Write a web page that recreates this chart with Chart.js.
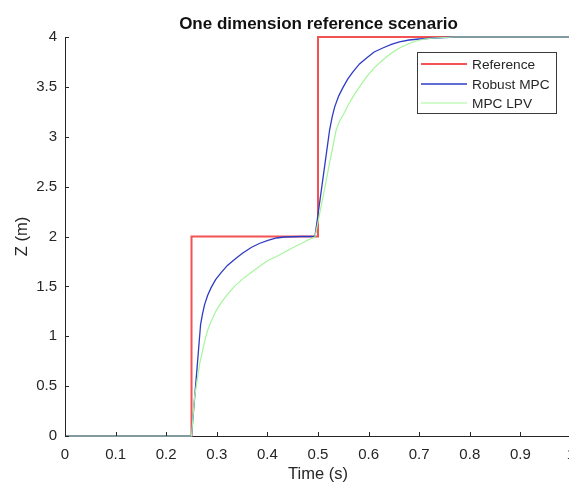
<!DOCTYPE html>
<html>
<head>
<meta charset="utf-8">
<script src="https://cdn.jsdelivr.net/npm/chart.js@4.4.1/dist/chart.umd.min.js"></script>
<style>
  html, body { margin: 0; padding: 0; overflow: hidden; background: #fff; }
  #wrap { width: 637px; height: 485px; position: relative; }
</style>
</head>
<body>
<div id="wrap"><canvas id="myChart"></canvas></div>
<script>
// reference step
const refTime  = [0, 0.25, 0.25, 0.5, 0.5, 1];
const refValue = [0, 0, 2, 2, 4, 4];

// controller responses
const robustTime = [0, 0.25, 0.268, 0.272, 0.276, 0.282, 0.289, 0.298, 0.309, 0.321, 0.335, 0.350, 0.368,
                    0.384, 0.401, 0.418, 0.434, 0.467, 0.494, 0.510, 0.523, 0.528, 0.533, 0.541, 0.550,
                    0.559, 0.569, 0.582, 0.596, 0.611, 0.628, 0.645, 0.661, 0.680, 0.700, 0.730, 0.770, 1];
const robustMpc = [0, 0, 1.12, 1.23, 1.32, 1.41, 1.49, 1.57, 1.64, 1.71, 1.77, 1.83, 1.89,
                   1.93, 1.96, 1.985, 1.995, 2, 2, 2.59, 3.07, 3.20, 3.30, 3.41, 3.50,
                   3.58, 3.65, 3.73, 3.79, 3.85, 3.89, 3.925, 3.95, 3.97, 3.98, 3.99, 4, 4];

const lpvTime = [0, 0.25, 0.256, 0.266, 0.276, 0.282, 0.289, 0.298, 0.309, 0.321, 0.335, 0.350, 0.368,
                 0.384, 0.401, 0.418, 0.434, 0.451, 0.467, 0.480, 0.494, 0.510, 0.523, 0.536, 0.543,
                 0.550, 0.559, 0.569, 0.582, 0.596, 0.611, 0.628, 0.645, 0.661, 0.678, 0.694, 0.710,
                 0.730, 0.770, 1];
const mpcLpv = [0, 0, 0.39, 0.72, 0.95, 1.06, 1.15, 1.25, 1.34, 1.42, 1.50, 1.57, 1.64,
                1.70, 1.76, 1.80, 1.845, 1.89, 1.93, 1.965, 1.995, 2.40, 2.74, 3.07, 3.16,
                3.22, 3.31, 3.40, 3.50, 3.60, 3.69, 3.77, 3.84, 3.89, 3.93, 3.96, 3.98,
                3.99, 4, 4];

const xTicks = [0, 0.1, 0.2, 0.3, 0.4, 0.5, 0.6, 0.7, 0.8, 0.9, 1];
const yTicks = [0, 0.5, 1, 1.5, 2, 2.5, 3, 3.5, 4];

const labels = ["Reference", "Robust MPC", "MPC LPV"];
const colors = {
  red: "#f25252",
  blue: "#2e3cc4",
  green: "#a6f59c",
  axis: "#262626"
};
const FONT = "'Liberation Sans', Arial, Helvetica, sans-serif";

function pts(xs, ys) {
  return xs.map(function(x, i) { return { x: x, y: ys[i] }; });
}

// MATLAB style inward ticks + legend box
const matlabBits = {
  id: "matlabBits",
  afterDraw(chart) {
    const ctx = chart.ctx;
    const xs = chart.scales.x, ys = chart.scales.y;
    const a = chart.chartArea;
    ctx.save();
    ctx.strokeStyle = colors.axis;
    ctx.lineWidth = 1;
    ctx.beginPath();
    xTicks.forEach(function(v) {
      const px = Math.round(xs.getPixelForValue(v)) + 0.5;
      ctx.moveTo(px, a.bottom);
      ctx.lineTo(px, a.bottom - 4);
    });
    yTicks.forEach(function(v) {
      const py = Math.round(ys.getPixelForValue(v)) + 0.5;
      ctx.moveTo(a.left, py);
      ctx.lineTo(a.left + 4, py);
    });
    ctx.stroke();

    // legend
    const lx = 417.5, ly = 52.5, lw = 139, lh = 61;
    ctx.fillStyle = "#fff";
    ctx.fillRect(lx, ly, lw, lh);
    ctx.strokeStyle = "#3a3a3a";
    ctx.strokeRect(lx, ly, lw, lh);
    const rows = [64, 84, 103];
    chart.data.datasets.forEach(function(ds, i) {
      ctx.strokeStyle = ds.borderColor;
      ctx.lineWidth = ds.borderWidth;
      ctx.beginPath();
      ctx.moveTo(421, rows[i]);
      ctx.lineTo(467, rows[i]);
      ctx.stroke();
      ctx.fillStyle = "#262626";
      ctx.font = "13.7px " + FONT;
      ctx.textBaseline = "middle";
      ctx.textAlign = "left";
      ctx.fillText(ds.label, 472, rows[i] + 1);
    });
    ctx.restore();
  }
};

const ctx = document.getElementById("myChart").getContext("2d");
new Chart(ctx, {
  type: "line",
  data: {
    datasets: [
      {
        label: labels[0],
        data: pts(refTime, refValue),
        borderColor: colors.red,
        borderWidth: 2,
        pointRadius: 0,
        tension: 0,
        clip: false,
        order: 2
      },
      {
        label: labels[1],
        data: pts(robustTime, robustMpc),
        borderColor: colors.blue,
        borderWidth: 1.3,
        pointRadius: 0,
        tension: 0,
        clip: false,
        order: 1
      },
      {
        label: labels[2],
        data: pts(lpvTime, mpcLpv),
        borderColor: colors.green,
        borderWidth: 1.2,
        pointRadius: 0,
        tension: 0,
        clip: false,
        order: 0
      }
    ]
  },
  options: {
    responsive: true,
    maintainAspectRatio: false,
    animation: false,
    layout: { padding: 0 },
    plugins: {
      legend: { display: false },
      tooltip: { enabled: false },
      title: {
        display: true,
        text: "One dimension reference scenario",
        color: "#111",
        font: { family: FONT, size: 17, weight: "bold", lineHeight: 1.2 },
        padding: { top: 14, bottom: 2.6 }
      }
    },
    scales: {
      x: {
        type: "linear",
        min: 0,
        max: 1,
        afterBuildTicks: function(s) { s.ticks = xTicks.map(function(v) { return { value: v }; }); },
        afterFit: function(s) { s.height = 49; },
        grid: { display: true, drawOnChartArea: false, drawTicks: false },
        border: { display: true, color: colors.axis, width: 1 },
        ticks: {
          color: colors.axis,
          padding: 10,
          maxRotation: 0,
          autoSkip: false,
          font: { family: FONT, size: 15 },
          callback: function(v) { return String(Math.round(v * 10) / 10); }
        },
        title: {
          display: true,
          text: "Time (s)",
          color: colors.axis,
          font: { family: FONT, size: 16.5 },
          padding: { top: 0, bottom: 1 }
        }
      },
      y: {
        type: "linear",
        min: 0,
        max: 4,
        afterBuildTicks: function(s) { s.ticks = yTicks.map(function(v) { return { value: v }; }); },
        afterFit: function(s) { s.width = 65; },
        grid: { display: true, drawOnChartArea: false, drawTicks: false },
        border: { display: true, color: colors.axis, width: 1 },
        ticks: {
          color: colors.axis,
          padding: 8,
          autoSkip: false,
          font: { family: FONT, size: 15 },
          callback: function(v) { return String(v); }
        },
        title: {
          display: true,
          text: "Z (m)",
          color: colors.axis,
          font: { family: FONT, size: 16.5 },
          padding: { top: 13, bottom: 0 }
        }
      },
      yRight: {
        type: "linear",
        position: "right",
        display: true,
        afterFit: function(s) { s.width = 66; },
        grid: { display: false },
        border: { display: false },
        ticks: { display: false }
      }
    }
  },
  plugins: [matlabBits]
});
</script>
</body>
</html>
